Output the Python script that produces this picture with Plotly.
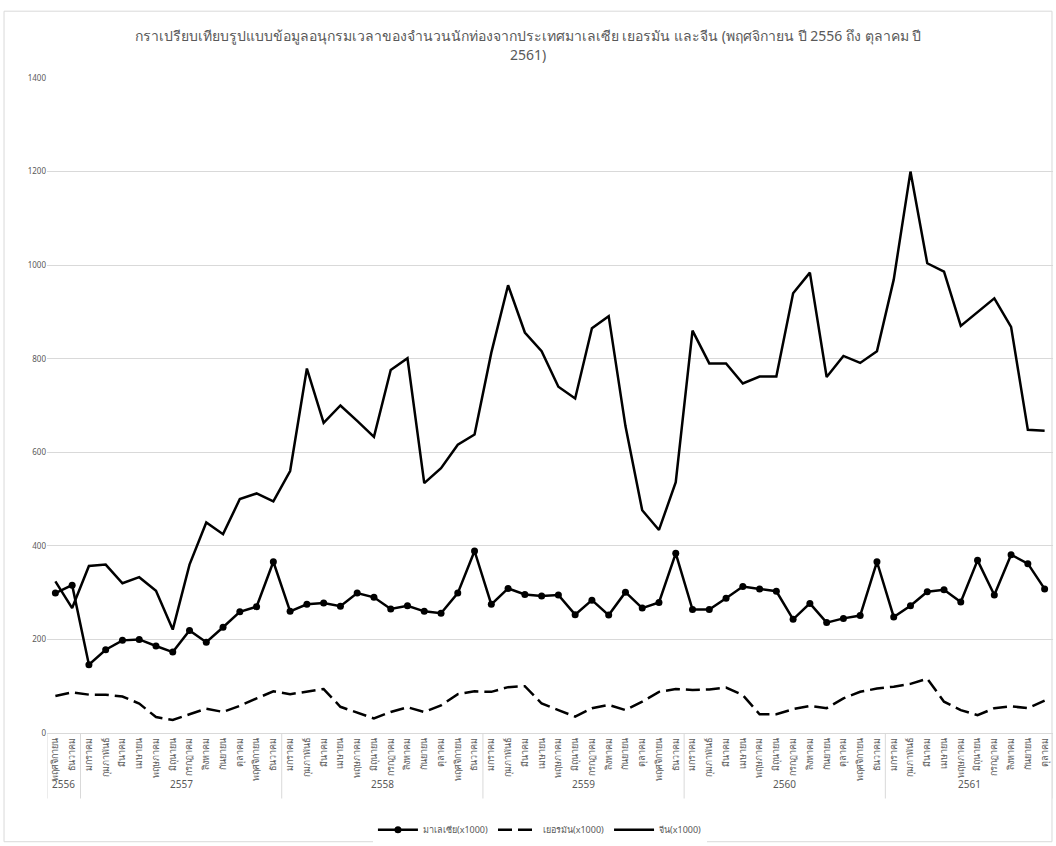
import plotly.graph_objects as go

months_th = ["พฤศจิกายน", "ธันวาคม", "มกราคม", "กุมภาพันธ์", "มีนาคม", "เมษายน",
             "พฤษภาคม", "มิถุนายน", "กรกฎาคม", "สิงหาคม", "กันยายน", "ตุลาคม"]
full_year = months_th[2:] + months_th[:2]  # Jan..Dec order
year_order = ["2556", "2557", "2558", "2559", "2560", "2561"]
year_counts = [2, 12, 12, 12, 12, 10]

# month tick labels, in time order
months = ["พฤศจิกายน", "ธันวาคม"]
for _ in range(4):
    months.extend(full_year)
months.extend(full_year[:10])

malaysia = [299, 316, 146, 178, 198, 200, 186, 173, 219, 194, 226, 259, 270, 366,
            260, 275, 278, 271, 299, 290, 265, 272, 260, 256, 299, 389,
            275, 309, 296, 293, 295, 253, 284, 252, 301, 267, 279, 384,
            264, 264, 288, 313, 308, 303, 243, 277, 236, 245, 251, 366,
            248, 272, 302, 306, 280, 369, 295, 381, 362, 308]

germany = [79, 87, 82, 82, 78, 63, 34, 28, 40, 52, 45, 58, 74, 89,
           83, 89, 94, 56, 43, 31, 45, 55, 45, 59, 83, 89,
           88, 98, 100, 63, 49, 35, 53, 60, 49, 67, 88, 94,
           92, 93, 97, 81, 40, 40, 51, 58, 53, 74, 88, 95,
           99, 105, 116, 67, 49, 38, 53, 57, 53, 69]

china = [324, 267, 357, 360, 320, 333, 304, 221, 360, 450, 425, 500, 512, 495,
         560, 779, 663, 700, 667, 633, 776, 801, 534, 566, 616, 638,
         813, 957, 856, 816, 740, 715, 865, 891, 656, 476, 434, 536,
         860, 790, 790, 747, 762, 762, 940, 984, 761, 806, 791, 816,
         969, 1200, 1004, 986, 870, 900, 929, 868, 648, 646]

names = ["มาเลเซีย(x1000)", "เยอรมัน(x1000)", "จีน(x1000)"]
title_text = ("กราเปรียบเทียบรูปแบบข้อมูลอนุกรมเวลาของจำนวนนักท่องจากประเทศมาเลเซีย เยอรมัน และจีน "
              "(พฤศจิกายน ปี 2556 ถึง ตุลาคม ปี<br>2561)")

idx = list(range(len(months)))
gray = "#595959"
light = "#d9d9d9"

fig = go.Figure()
fig.add_trace(go.Scatter(x=idx, y=malaysia, name=names[0], mode="lines+markers",
                         line=dict(color="black", width=2.5),
                         marker=dict(color="black", size=7, symbol="circle")))
fig.add_trace(go.Scatter(x=idx, y=germany, name=names[1], mode="lines",
                         line=dict(color="black", width=2.5, dash="14px,6px")))
fig.add_trace(go.Scatter(x=idx, y=china, name=names[2], mode="lines",
                         line=dict(color="black", width=2.5)))

fig.update_layout(
    width=1056, height=846,
    margin=dict(l=47, r=3, t=78, b=112),
    paper_bgcolor="white", plot_bgcolor="white",
    font=dict(family="Noto Sans, DejaVu Sans, sans-serif", color=gray, size=9),
    title=dict(text=title_text, x=0.5, xanchor="center", y=0.951, yanchor="middle",
               font=dict(size=14, color=gray)),
    showlegend=True,
    legend=dict(orientation="h", x=0.49, xanchor="center", y=-0.146, yanchor="middle",
                font=dict(size=9, color=gray), itemwidth=40),
    yaxis=dict(range=[0, 1400], dtick=200, showgrid=True, gridcolor=light,
               gridwidth=1, zeroline=False, showline=False, ticks="",
               tickfont=dict(size=8, color=gray)),
    xaxis=dict(range=[-0.5, len(months) - 0.5], tickmode="array", tickvals=idx,
               ticktext=months, showline=True, linecolor=light, linewidth=1,
               showgrid=False, zeroline=False, tickangle=-90,
               tickfont=dict(size=9, color=gray), ticks=""),
)

# year group labels and dividers
start = 0
bounds = [-0.5]
for yr, n in zip(year_order, year_counts):
    center = start + (n - 1) / 2
    fig.add_annotation(x=center, y=-0.078, xref="x", yref="paper", text=yr,
                       showarrow=False, font=dict(size=10, color=gray),
                       yanchor="middle")
    start += n
    bounds.append(start - 0.5)
for b in bounds:
    fig.add_shape(type="line", xref="x", yref="paper", x0=b, x1=b, y0=0, y1=-0.1,
                  line=dict(color=light, width=1))

fig.add_shape(type="rect", xref="paper", yref="paper",
              x0=-0.0427, x1=0.999, y0=-0.166, y1=1.102,
              line=dict(color=light, width=1), fillcolor="rgba(0,0,0,0)", layer="below")

fig.write_html("out.html")
